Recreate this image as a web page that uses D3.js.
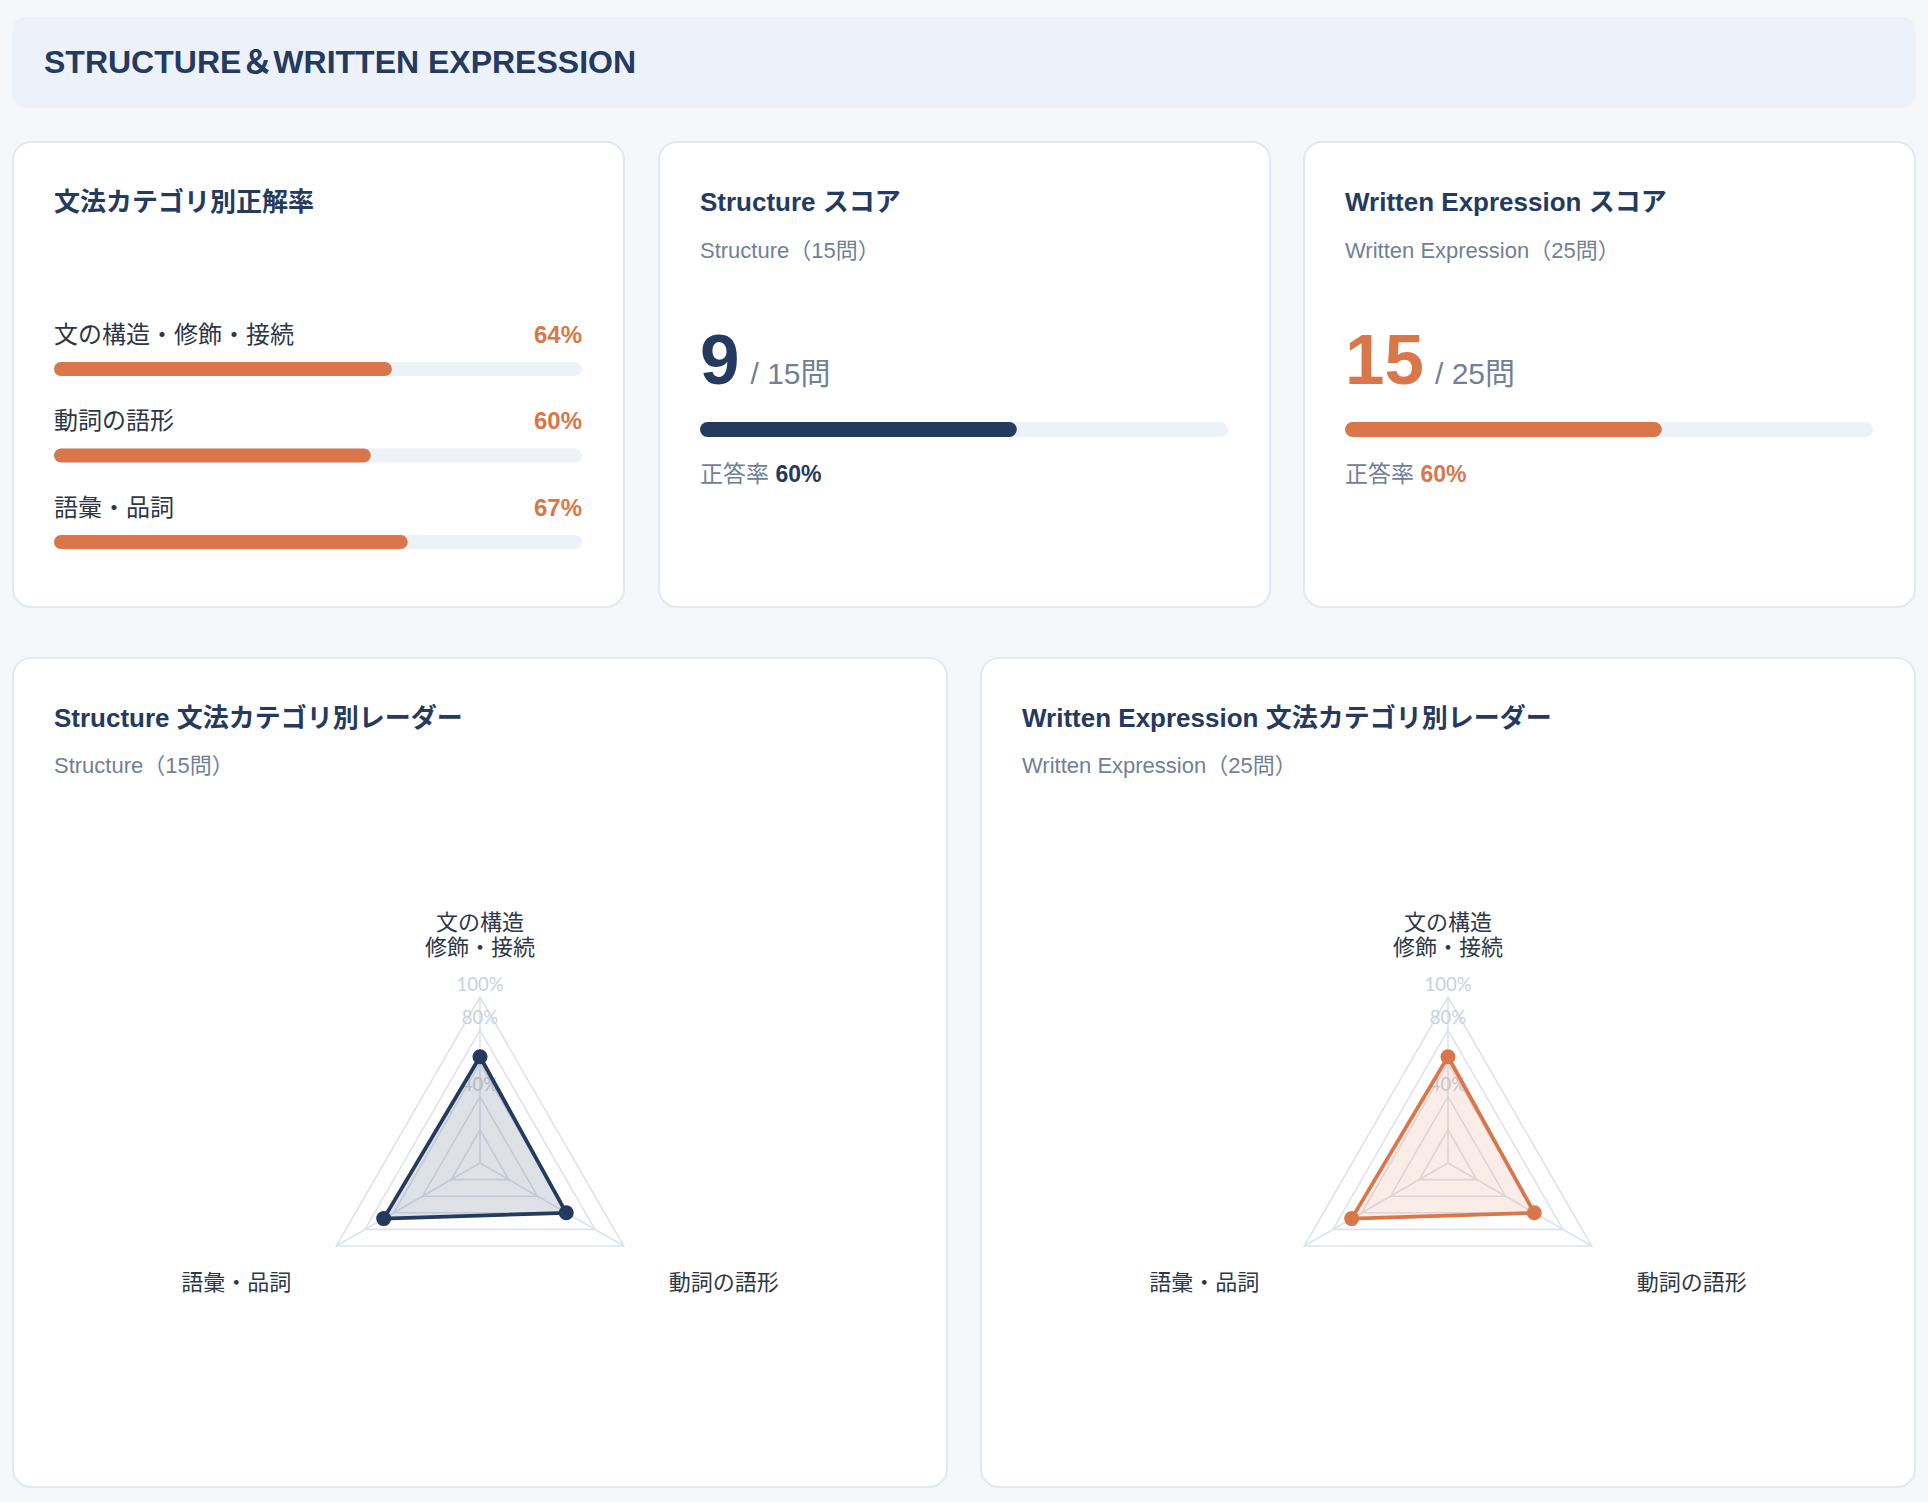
<!DOCTYPE html>
<html>
<head>
<meta charset="utf-8">
<script src="https://cdn.jsdelivr.net/npm/d3@7"></script>
<style>
  html, body { margin: 0; padding: 0; background: #f5f7fa; }
  svg { display: block; }
</style>
</head>
<body>
<svg id="canvas"></svg>
<script>
// chart data
const pageTitle = "STRUCTURE＆WRITTEN EXPRESSION"
const categories = ["文の構造・修飾・接続", "動詞の語形", "語彙・品詞"]
const radarLabels = [["文の構造", "修飾・接続"], ["動詞の語形"], ["語彙・品詞"]]
const categoryRates = [64, 60, 67]
const sections = ["Structure", "Written Expression"]
const sectionTotals = [15, 25]
const sectionScores = [9, 15]
const structureRates = [64, 60, 67]
const writtenRates = [64, 60, 67]
const gridLevels = [20, 40, 60, 80, 100]
const tickLabels = [40, 80, 100]

const navy = "#243a5e"
const orange = "#d9774a"
const track = "#edf2f9"
const gray = "#718096"
const font = "'Liberation Sans', Arial, 'Noto Sans CJK JP', sans-serif"

const width = 1928
const height = 1502

let canvas = d3.select('#canvas')
  .attr('width', width)
  .attr('height', height)
  .style('font-family', font)

canvas.append('rect')
  .attr('width', width)
  .attr('height', height)
  .attr('fill', '#f5f7fa')

// header
canvas.append('rect')
  .attr('x', 12).attr('y', 17)
  .attr('width', 1904).attr('height', 91)
  .attr('rx', 14)
  .attr('fill', '#edf2fa')

canvas.append('text')
  .attr('x', 44).attr('y', 62)
  .attr('dominant-baseline', 'central')
  .attr('font-size', 32)
  .attr('font-weight', 700)
  .attr('fill', navy)
  .text(pageTitle)

const card = (x, y, w, h) => {
  const g = canvas.append('g').attr('transform', `translate(${x}, ${y})`)
  g.append('rect')
    .attr('x', 1).attr('y', 1)
    .attr('width', w - 2).attr('height', h - 2)
    .attr('rx', 18)
    .attr('fill', '#fff')
    .attr('stroke', '#e2e8f0')
    .attr('stroke-width', 2)
  return g
}

const title = (g, txt, y) => {
  g.append('text')
    .attr('x', 42).attr('y', y)
    .attr('dominant-baseline', 'central')
    .attr('font-size', 26)
    .attr('font-weight', 700)
    .attr('fill', navy)
    .text(txt)
}

const subtitle = (g, txt, y) => {
  g.append('text')
    .attr('x', 42).attr('y', y)
    .attr('dominant-baseline', 'central')
    .attr('font-size', 22)
    .attr('fill', gray)
    .text(txt)
}

// --- card 1: category bars
const c1 = card(12, 141, 613, 467)
title(c1, "文法カテゴリ別正解率", 61)

const barX = d3.scaleLinear().domain([0, 100]).range([42, 570])
const rowY = d3.scaleLinear().domain([0, categories.length - 1]).range([193, 366])

const rows = c1.selectAll('.row')
  .data(categories.map((c, i) => ({ name: c, rate: categoryRates[i] })))
  .enter().append('g')
  .attr('class', 'row')
  .attr('transform', (d, i) => `translate(0, ${rowY(i)})`)

rows.append('text')
  .attr('x', barX(0))
  .attr('dominant-baseline', 'central')
  .attr('font-size', 24)
  .attr('fill', '#2d3748')
  .text(d => d.name)

rows.append('text')
  .attr('x', barX(100))
  .attr('text-anchor', 'end')
  .attr('dominant-baseline', 'central')
  .attr('font-size', 24)
  .attr('font-weight', 700)
  .attr('fill', orange)
  .text(d => d.rate + '%')

rows.append('rect')
  .attr('x', barX(0)).attr('y', 28)
  .attr('width', barX(100) - barX(0)).attr('height', 14)
  .attr('rx', 7)
  .attr('fill', track)

rows.append('rect')
  .attr('x', barX(0)).attr('y', 28)
  .attr('width', d => barX(d.rate) - barX(0)).attr('height', 14)
  .attr('rx', 7)
  .attr('fill', orange)

// --- score cards
const scoreColors = [navy, orange]
const scoreX = [658, 1303]

sections.forEach((name, i) => {
  const g = card(scoreX[i], 141, 613, 467)
  const total = sectionTotals[i]
  const score = sectionScores[i]
  const rate = Math.round(score / total * 100)
  title(g, `${name} スコア`, 61)
  subtitle(g, `${name}（${total}問）`, 109)

  const big = g.append('text')
    .attr('x', 42).attr('y', 243)
  big.append('tspan')
    .attr('font-size', 71)
    .attr('font-weight', 700)
    .attr('fill', scoreColors[i])
    .text(score)
  big.append('tspan')
    .attr('dx', 11)
    .attr('font-size', 30)
    .attr('fill', gray)
    .text(`/ ${total}問`)

  g.append('rect')
    .attr('x', barX(0)).attr('y', 281)
    .attr('width', barX(100) - barX(0)).attr('height', 15)
    .attr('rx', 7.5)
    .attr('fill', track)
  g.append('rect')
    .attr('x', barX(0)).attr('y', 281)
    .attr('width', barX(rate) - barX(0)).attr('height', 15)
    .attr('rx', 7.5)
    .attr('fill', scoreColors[i])

  const r = g.append('text')
    .attr('x', 42).attr('y', 333)
    .attr('dominant-baseline', 'central')
    .attr('font-size', 23)
  r.append('tspan').attr('fill', gray).text('正答率 ')
  r.append('tspan').attr('font-weight', 700).attr('fill', scoreColors[i]).text(rate + '%')
})

// --- radar cards
const radarX = [12, 980]
const radarW = 936
const radarData = [structureRates, writtenRates]
const radarFill = ["rgba(36,58,94,0.15)", "rgba(217,119,74,0.13)"]

const rScale = d3.scaleLinear().domain([0, 100]).range([0, 166])
const angle = i => i * 2 * Math.PI / categories.length

const radial = d3.lineRadial()
  .angle((d, i) => angle(i))
  .radius(d => rScale(d))
  .curve(d3.curveLinearClosed)

const pt = (i, r) => [r * Math.sin(angle(i)), -r * Math.cos(angle(i))]

sections.forEach((name, k) => {
  const g = card(radarX[k], 657, radarW, 831)
  title(g, `${name} 文法カテゴリ別レーダー`, 61)
  subtitle(g, `${name}（${sectionTotals[k]}問）`, 108)

  const chart = g.append('g')
    .attr('transform', `translate(${radarW / 2}, 506)`)

  // grid
  chart.selectAll('.grid')
    .data(gridLevels)
    .enter().append('path')
    .attr('class', 'grid')
    .attr('d', v => radial(categories.map(() => v)))
    .attr('fill', 'none')
    .attr('stroke', '#dde3ec')
    .attr('stroke-width', 1.6)

  chart.selectAll('.spoke')
    .data(categories)
    .enter().append('line')
    .attr('class', 'spoke')
    .attr('x2', (d, i) => pt(i, rScale(100))[0])
    .attr('y2', (d, i) => pt(i, rScale(100))[1])
    .attr('stroke', '#dde3ec')
    .attr('stroke-width', 1.6)

  chart.selectAll('.tick')
    .data(tickLabels)
    .enter().append('text')
    .attr('class', 'tick')
    .attr('y', v => -rScale(v) - 13)
    .attr('text-anchor', 'middle')
    .attr('dominant-baseline', 'central')
    .attr('font-family', "Lato, 'Noto Sans', sans-serif")
    .attr('font-size', 18.5)
    .attr('fill', '#c8d0dc')
    .text(v => v + '%')

  // point labels
  radarLabels.forEach((lines, i) => {
    const [lx, ly] = pt(i, rScale(100) + 52)
    const t = chart.append('text')
      .attr('font-size', 22)
      .attr('fill', '#2d3748')
      .attr('dominant-baseline', 'central')
    if (i === 0) {
      t.attr('text-anchor', 'middle')
      lines.forEach((l, j) => {
        t.append('tspan')
          .attr('x', lx)
          .attr('y', ly + 2 - (lines.length - 1 - j) * 25)
          .text(l)
      })
    } else {
      t.attr('text-anchor', lx > 0 ? 'start' : 'end')
        .attr('x', lx).attr('y', ly + 10)
        .text(lines[0])
    }
  })

  // dataset
  const vals = radarData[k]
  chart.append('path')
    .attr('d', radial(vals))
    .attr('fill', radarFill[k])
    .attr('stroke', scoreColors[k])
    .attr('stroke-width', 3.8)
    .attr('stroke-linejoin', 'round')

  chart.selectAll('.dot')
    .data(vals)
    .enter().append('circle')
    .attr('class', 'dot')
    .attr('cx', (d, i) => pt(i, rScale(d))[0])
    .attr('cy', (d, i) => pt(i, rScale(d))[1])
    .attr('r', 7.5)
    .attr('fill', scoreColors[k])
})
</script>
</body>
</html>
